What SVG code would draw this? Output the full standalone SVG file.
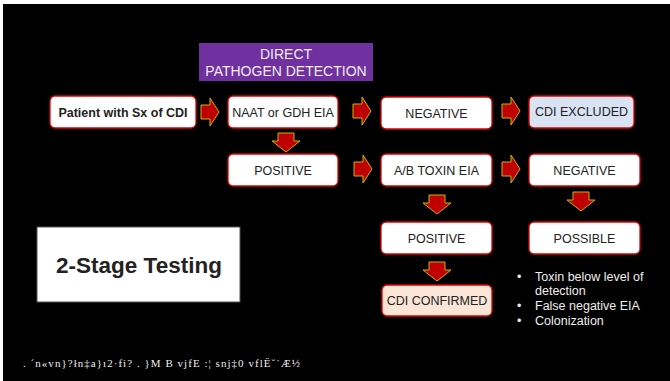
<svg xmlns="http://www.w3.org/2000/svg" width="670" height="381" viewBox="0 0 670 381">
<style>
.box{fill:#fff;stroke:#e00000;stroke-width:1.3}
.t{font-family:"Liberation Sans",Arial,sans-serif;font-size:12.5px;fill:#222;text-anchor:middle}
.w{font-family:"Liberation Sans",Arial,sans-serif;font-size:12.5px;fill:#eee}
.arr{fill:#c00000;stroke:#c8b400;stroke-width:1}
</style>
<defs>
<path id="ar" d="M0,7 H9 V0 L18,14 L9,28 V21 H0 Z"/>
<path id="ad" d="M6,0 H22 V8 H28 L14,19 L0,8 H6 Z"/>
</defs>
<rect x="0" y="0" width="670" height="381" fill="#fff"/>
<rect x="3" y="4" width="667" height="377" fill="#000"/>

<g id="header">
<rect x="199" y="43" width="174" height="38" fill="#7030a0"/>
<text x="286" y="59" class="t" style="fill:#eee;font-size:14px">DIRECT</text>
<text x="286" y="76" class="t" style="fill:#eee;font-size:14px">PATHOGEN DETECTION</text>
</g>

<g id="patient"><rect class="box" x="50" y="96" width="146" height="32" rx="5"/><text x="123" y="116.5" class="t" style="font-weight:bold;font-size:12.5px">Patient with Sx of CDI</text></g>
<g id="naat"><rect class="box" x="228" y="96" width="110" height="32" rx="5"/><text x="283" y="116.5" class="t">NAAT or GDH EIA</text></g>
<g id="neg1"><rect class="box" x="381" y="97" width="111" height="32" rx="5"/><text x="436.5" y="117.5" class="t">NEGATIVE</text></g>
<g id="excluded"><rect class="box" x="529" y="96" width="105" height="32" rx="5" style="fill:#dae3f3"/><text x="581.5" y="116" class="t">CDI EXCLUDED</text></g>
<g id="pos1"><rect class="box" x="228" y="154" width="110" height="32" rx="5"/><text x="283" y="174.5" class="t">POSITIVE</text></g>
<g id="toxin"><rect class="box" x="381" y="154" width="111" height="32" rx="5"/><text x="436.5" y="174.5" class="t">A/B TOXIN EIA</text></g>
<g id="neg2"><rect class="box" x="529" y="154" width="111" height="32" rx="5"/><text x="584.5" y="174.5" class="t">NEGATIVE</text></g>
<g id="pos2"><rect class="box" x="381" y="222" width="111" height="32" rx="5"/><text x="436.5" y="243" class="t">POSITIVE</text></g>
<g id="possible"><rect class="box" x="529" y="222" width="111" height="32" rx="5"/><text x="584.5" y="243" class="t">POSSIBLE</text></g>
<g id="confirmed"><rect class="box" x="382" y="285" width="110" height="31" rx="5" style="fill:#fbe5d6"/><text x="437" y="305" class="t">CDI CONFIRMED</text></g>

<g id="stage">
<rect x="37" y="227" width="203" height="75" fill="#fff" stroke="#555" stroke-width="1"/>
<text x="139" y="273" class="t" style="font-weight:bold;font-size:22.5px;fill:#222">2-Stage Testing</text>
</g>

<g id="reasons" class="w">
<text x="517" y="281">•</text><text x="535" y="281">Toxin below level of</text>
<text x="535" y="295">detection</text>
<text x="517" y="310">•</text><text x="535" y="310">False negative EIA</text>
<text x="517" y="325">•</text><text x="535" y="325">Colonization</text>
</g>

<g id="connectors">
<use href="#ar" class="arr" x="201" y="98"/>
<use href="#ar" class="arr" x="353" y="97"/>
<use href="#ar" class="arr" x="502" y="97"/>
<use href="#ar" class="arr" x="354" y="155"/>
<use href="#ar" class="arr" x="502" y="155"/>
<use href="#ad" class="arr" x="272" y="133"/>
<use href="#ad" class="arr" x="423" y="195"/>
<use href="#ad" class="arr" x="567" y="192"/>
<use href="#ad" class="arr" x="423" y="262"/>
</g>

<g id="footer">
<text x="23" y="367" textLength="277" style="font-family:'Liberation Serif',serif;font-size:11px;fill:#eee">. ´n«vn}?łn‡a}ı2·fi? . }M B vjfE :¦ snj‡0 vflË˘˙Æ½</text>
</g>
</svg>
